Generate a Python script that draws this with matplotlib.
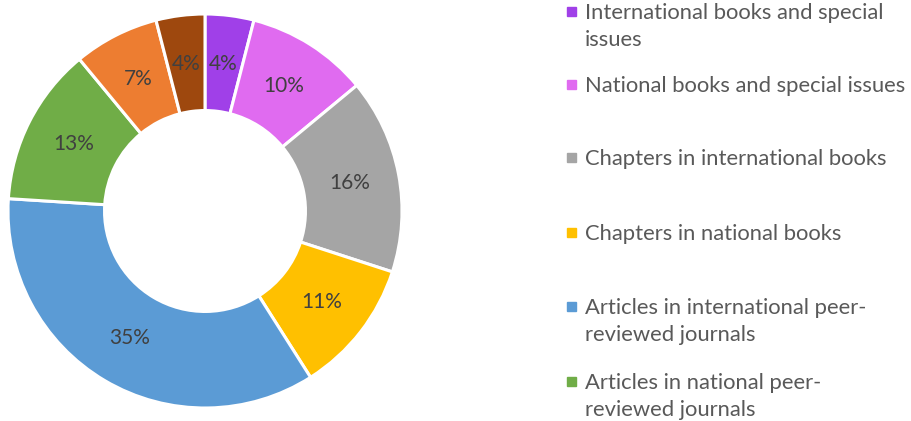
import matplotlib.pyplot as plt
from matplotlib.patches import Rectangle

plt.rcParams['font.family'] = ['Lato', 'DejaVu Sans']

categories = ['International books and special\nissues',
              'National books and special issues',
              'Chapters in international books',
              'Chapters in national books',
              'Articles in international peer-\nreviewed journals',
              'Articles in national peer-\nreviewed journals',
              'Articles in other journals',
              'Other publications']
shares = [4, 10, 16, 11, 35, 13, 7, 4]
colors = ['#A040E8', '#E06BF0', '#A5A5A5', '#FFC000',
          '#5B9BD5', '#70AD47', '#ED7D31', '#9E480E']

# only the first six legend entries fit in the original image (pixel rows of first line)
legend_px = [12, 85, 158, 233, 307, 382]

fig = plt.figure(figsize=(9.11, 4.21), dpi=100)
ax = fig.add_axes([8 / 911, 13 / 421, 394 / 911, 394 / 421])

wedges, texts, autotexts = ax.pie(
    shares, colors=colors, startangle=90, counterclock=False,
    radius=1, pctdistance=0.75, autopct='%d%%',
    wedgeprops=dict(width=0.49, edgecolor='white', linewidth=2.2))
for t in autotexts:
    t.set_color('#404040')
    t.set_fontsize(15)
ax.set_xlim(-1, 1)
ax.set_ylim(-1, 1)
ax.set_aspect('equal')

for lab, col, py in zip(categories[:6], colors[:6], legend_px):
    y = 1 - py / 421
    fig.patches.append(Rectangle((567 / 911, y - 4 / 421), 9 / 911, 9 / 421,
                                 transform=fig.transFigure, color=col))
    fig.text(585 / 911, y + 9 / 421, lab, va='top', ha='left', fontsize=15.8,
             color='#595959', linespacing=1.45)

fig.savefig('out.png', dpi=100)
